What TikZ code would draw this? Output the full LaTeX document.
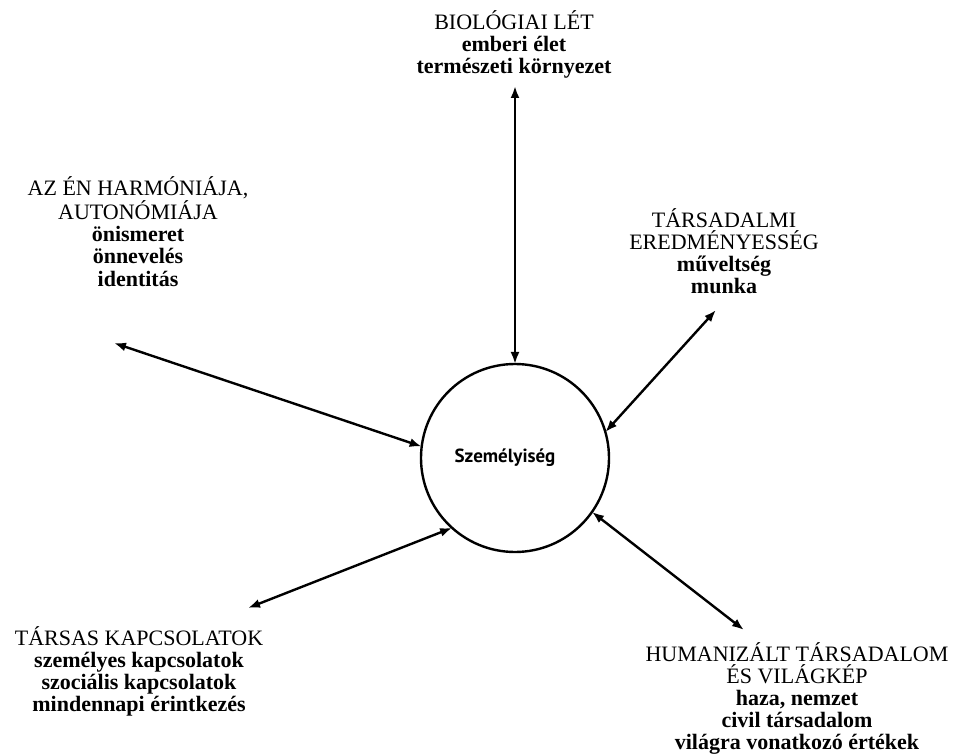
\documentclass[tikz,border=0pt]{standalone}
\usepackage{fontspec}
\setmainfont{Liberation Serif}
\newfontfamily\corefont{PT Sans}
\usepackage{tikz}
\usetikzlibrary{arrows.meta}
\tikzset{
    core/.style={circle,draw,line width=1.2pt,minimum size=94pt,inner sep=0pt,outer sep=0pt,font=\corefont\bfseries\fontsize{9.5}{11}\selectfont},
    area/.style={anchor=base,align=center,inner sep=0pt,font=\fontsize{11}{11}\selectfont},
    link/.style={<->,>={Latex[length=6pt,width=4.5pt]},line width=1.2pt}
}

\begin{document}
\begin{tikzpicture}[x=0.5pt,y=-0.5pt]
    \useasboundingbox (0,0) rectangle (964,754);
    \node[core] (szemelyiseg) at (515,458) {Személyiség\hspace*{10pt}};

    % anchor=base sits on the last line
    \node[area] (biologiai) at (514,74) {BIOLÓGIAI LÉT\\ \textbf{emberi élet}\\ \textbf{természeti környezet}};
    \node[area] (harmonia) at (138,286) {AZ ÉN HARMÓNIÁJA,\\ AUTONÓMIÁJA\\ \textbf{önismeret}\\ \textbf{önnevelés}\\ \textbf{identitás}};
    \node[area] (tarsadalmi) at (724,294) {TÁRSADALMI\\ EREDMÉNYESSÉG\\ \textbf{műveltség}\\ \textbf{munka}};
    \node[area] (tarsas) at (139,711) {TÁRSAS KAPCSOLATOK\\ \textbf{személyes kapcsolatok}\\ \textbf{szociális kapcsolatok}\\ \textbf{mindennapi érintkezés}};
    \node[area] (humanizalt) at (797,749) {HUMANIZÁLT TÁRSADALOM\\ ÉS VILÁGKÉP\\ \textbf{haza, nemzet}\\ \textbf{civil társadalom}\\ \textbf{világra vonatkozó értékek}};

    \coordinate (biologiai_end) at (515,86);
    \coordinate (harmonia_end) at (114,343);
    \coordinate (tarsadalmi_end) at (716,310);
    \coordinate (tarsas_end) at (248,608);
    \coordinate (humanizalt_end) at (744,630);

    \path (biologiai_end) edge[link] (szemelyiseg.90);
    \path (harmonia_end) edge[link] (szemelyiseg.173);
    \path (tarsadalmi_end) edge[link] (szemelyiseg.16);
    \path (tarsas_end) edge[link] (szemelyiseg.228);
    \path (humanizalt_end) edge[link] (szemelyiseg.325);
\end{tikzpicture}
\end{document}
